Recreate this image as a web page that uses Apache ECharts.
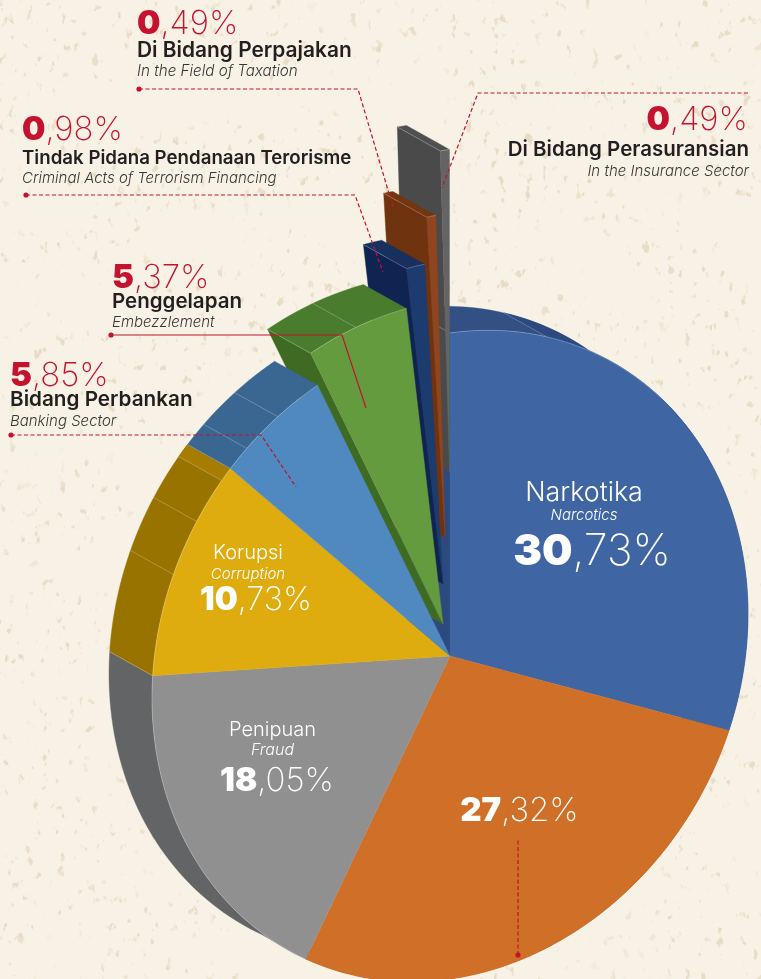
<!DOCTYPE html>
<html><head><meta charset="utf-8">
<style>html,body{margin:0;padding:0;background:#f8f2e6;overflow:hidden}
#bg{position:absolute;left:0;top:0}#c{position:absolute;left:0;top:0;width:761px;height:979px}</style>
<script src="https://cdn.jsdelivr.net/npm/echarts@6/dist/echarts.min.js"></script></head>
<body>
<svg id="bg" width="761" height="979"><defs>
<filter id="t" x="0" y="0" width="100%" height="100%" color-interpolation-filters="sRGB">
<feTurbulence type="fractalNoise" baseFrequency="0.12 0.075" numOctaves="3" seed="11" result="a"/>
<feColorMatrix in="a" values="0 0 0 0 .80  0 0 0 0 .72  0 0 0 0 .57  9 0 0 0 -6" result="specks"/>
<feTurbulence type="fractalNoise" baseFrequency="0.011 0.015" numOctaves="2" seed="5" result="b"/>
<feColorMatrix in="b" values="0 0 0 0 0  0 0 0 0 0  0 0 0 0 0  6 0 0 0 -2.2" result="mask"/>
<feComposite in="specks" in2="mask" operator="in"/>
<feComponentTransfer><feFuncA type="table" tableValues="0 .38"/></feComponentTransfer></filter>
</defs><rect width="761" height="979" fill="#f8f2e6"/><rect width="761" height="979" filter="url(#t)"/></svg>
<div id="c"></div>
<script>
// ---- data ----
const categories = ['Narkotika', '', 'Penipuan', 'Korupsi', 'Bidang Perbankan', 'Penggelapan', 'Tindak Pidana Pendanaan Terorisme', 'Di Bidang Perpajakan', 'Di Bidang Perasuransian'];
const categoriesEn = ['Narcotics', '', 'Fraud', 'Corruption', 'Banking Sector', 'Embezzlement', 'Criminal Acts of Terrorism Financing', 'In the Field of Taxation', 'In the Insurance Sector'];
const shares = [30.73, 27.32, 18.05, 10.73, 5.85, 5.37, 0.98, 0.49, 0.49];

// ---- styles and layout ----
const faceColors = ['#4065a3', '#d06f27', '#909090', '#dfac0f', '#4f89bf', '#649b3f', '#1c3b6e', '#8f451f', '#646464'];
const capColors  = ['#325084', '#a85a1e', '#636466', '#987300', '#3a6791', '#4a7c2e', '#17305f', '#743611', '#505050'];
const wallColors = ['#2d4a7f', '#a85a1e', '#636466', '#987300', '#3a6791', '#3e6a24', '#0f2450', '#6f3310', '#4a4a4b'];
const explode = [[0,0],[0,0],[0,0],[0,0],[0,0],[-7,-32],[-7,-72],[-5,-119],[-0.5,-183.5]];
const drawLayer = [1, 20, 20, 20, 20, 11, 8, 5, 2];   // back-to-front ordering
const capSeams = {0:[19], 3:[291.9,301.8,310], 4:[317,324.7], 5:[343]};
const ORG = [450, 656], EXT = [-43, -24];
const INK = '#231f20', RED = '#c4122f', FONT = 'Inter, "Open Sans", sans-serif';
const labelLayout = [
 {x:584,pctX:592,nameY:493,enY:515,pctY:552,nameSize:26.8,enSize:15,pctSize:43,color:'#fff',align:'center'},
 {x:519,pctX:519.5,pctY:811,pctSize:33,color:'#fff',align:'center'},
 {x:272.5,pctX:277,nameY:730,enY:750,pctY:781,nameSize:20,enSize:16,pctSize:33,color:'#fff',align:'center'},
 {x:248,pctX:256,nameY:553,enY:574,pctY:600,nameSize:20,enSize:15,pctSize:32.5,color:'#fff',align:'center'},
 {x:10,pctX:10,nameY:400,enY:421,pctY:376,nameSize:20.7,enSize:15,pctSize:33,color:RED,align:'left',ink:1},
 {x:112,pctX:112,nameY:302,enY:322,pctY:278,nameSize:20.5,enSize:15,pctSize:33,color:RED,align:'left',ink:1},
 {x:22,pctX:22,nameY:158,enY:178,pctY:130,nameSize:18.7,enSize:15,pctSize:33,color:RED,align:'left',ink:1},
 {x:137,pctX:137,nameY:51,enY:71,pctY:24,nameSize:20.9,enSize:15.2,pctSize:33,color:RED,align:'left',ink:1},
 {x:749,pctX:748,nameY:150,enY:171,pctY:120,nameSize:20.5,enSize:15,pctSize:33,color:RED,align:'right',ink:1}
];
const leaders = [
 {pts:[[139,89],[358,89],[393,207]],dash:1,dot:1},
 {pts:[[26,195],[355,195],[383,272]],dash:1,dot:1},
 {pts:[[748,93],[478,93],[442,188]],dash:1,dot:0},
 {pts:[[111,335],[342,335],[366,408]],dash:0,dot:1},
 {pts:[[11,435],[261,435],[296,487]],dash:1,dot:1},
 {pts:[[518,955],[518,840]],dash:1,dot:1}
];

// sheared circle: the pie lies on a tilted plane
function proj(deg, o) {
  const r = deg * Math.PI / 180, s = Math.sin(r), c = Math.cos(r);
  return [o[0] + 298 * s, o[1] - (42 * s + 323 * c)];
}
function arc(a0, a1, o) {
  const n = Math.max(2, Math.ceil(Math.abs(a1 - a0) / 1.5)), p = [];
  for (let i = 0; i <= n; i++) p.push(proj(a0 + (a1 - a0) * i / n, o));
  return p;
}
const add = (o, d) => [o[0] + d[0], o[1] + d[1]];
const poly = (points, fill, z2) => ({type:'polygon', z2, shape:{points}, style:{fill, stroke:fill, lineWidth:0.4}, silent:true});
const seam = (a, b, z2) => ({type:'line', z2, shape:{x1:a[0],y1:a[1],x2:b[0],y2:b[1]}, style:{stroke:'rgba(255,255,255,.3)', lineWidth:0.8}, silent:true});
const txt = (x, y, text, size, color, align, extra) => ({type:'text', z2:60, silent:true, style:Object.assign({x, y, text, fontFamily:FONT, fontSize:size, fill:color, align, verticalAlign:'middle'}, extra||{})});

const total = shares.reduce((a, b) => a + b, 0);
const starts = [];
shares.reduce((acc, v, i) => { starts[i] = acc; return acc + v; }, 0);

function renderSlice(params, api) {
  const i = params.dataIndex, v = api.value(0);
  const a0 = starts[i] / total * 360, a1 = (starts[i] + v) / total * 360;
  const o = add(ORG, explode[i]), ob = add(o, EXT);
  const z = drawLayer[i], kids = [];
  const front = arc(a0, a1, o), back = arc(a0, a1, ob);
  if (i === 0 || i >= 5) {   // left wall
    kids.push(poly([o, proj(a0, o), proj(a0, ob), ob], wallColors[i], z));
  }
  kids.push(poly(front.concat(back.slice().reverse()), capColors[i], z + 1));   // outer band
  if (i === 3) {   // lighter last section of this band
    const ax = capSeams[3][2];
    kids.push(poly(arc(ax, a1, o).concat(arc(ax, a1, ob).reverse()), '#a67d00', z + 1));
  }
  if (i === 0) {   // darker tail after the seam
    kids.push(poly(arc(19, 60, o).concat(arc(19, 60, ob).reverse()), '#2c4a80', z + 1));
  }
  (capSeams[i] || []).forEach(a => kids.push(seam(proj(a, o), proj(a, ob), z + 2)));
  if (i !== 1) kids.push(seam(proj(a0, o), proj(a0, ob), z + 2));
  // top face
  const faceZ = z >= 20 || i === 0 ? 30 : z + 2;
  kids.push(poly([o].concat(front), faceColors[i], faceZ));
  if (i !== 1) {
    const rim = i === 0 ? arc(a0, 45, o) : front;
    kids.push({type:'polyline', z2:faceZ + 1, shape:{points:rim}, style:{fill:'none', stroke:'rgba(255,255,255,.3)', lineWidth:0.8}, silent:true});
  }
  // labels
  const L = labelLayout[i];
  const parts = v.toFixed(2).split('.');
  const sz = L.pctSize;
  kids.push(txt(L.pctX, L.pctY, '{b|' + parts[0] + '}{l|,' + parts[1] + '%}', sz, L.color, L.align, {
    rich:{b:{fontFamily:FONT, fontSize:sz, fontWeight:900, fill:L.color}, l:{fontFamily:FONT, fontSize:sz, fontWeight:200, fill:L.color}}
  }));
  if (categories[i]) {
    kids.push(txt(L.x, L.nameY, categories[i], L.nameSize, L.ink ? INK : L.color, L.align, {fontWeight:L.ink ? 600 : 300}));
    kids.push(txt(L.x, L.enY, categoriesEn[i], L.enSize, L.ink ? '#3a3637' : L.color, L.align, {fontStyle:'italic', fontWeight:300}));
  }
  return {type:'group', children:kids};
}

const leaderGraphics = [];
leaders.forEach(d => {
  leaderGraphics.push({type:'polyline', z:10, silent:true, shape:{points:d.pts}, style:{fill:'none', stroke:RED, lineWidth:1.2, lineDash:d.dash?[4,2.5]:null}});
  if (d.dot) leaderGraphics.push({type:'circle', z:10, silent:true, shape:{cx:d.pts[0][0], cy:d.pts[0][1], r:2.6}, style:{fill:RED}});
});

const chart = echarts.init(document.getElementById('c'), null, {renderer:'canvas', width:761, height:979});
chart.setOption({
  animation:false, backgroundColor:'transparent',
  graphic:leaderGraphics,
  series:[{type:'custom', name:'Kasus', z:5, coordinateSystem:'none', renderItem:renderSlice, clip:false,
    data:shares.map((v, i) => ({value:[v], name:categories[i] || '27,32%'}))}]
});
</script></body></html>
